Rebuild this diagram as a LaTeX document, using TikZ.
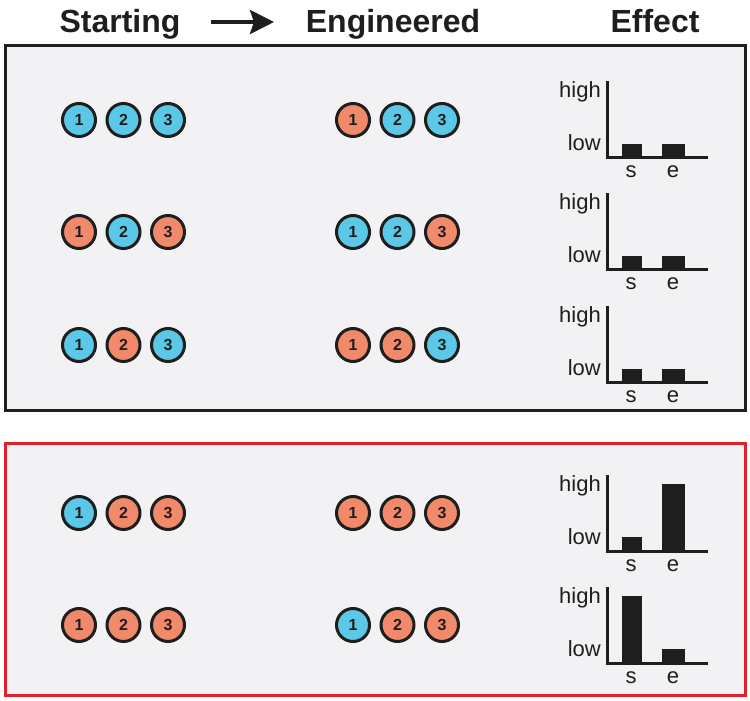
\documentclass[tikz,border=0pt]{standalone}
\usepackage{fontspec}
\setmainfont{Liberation Sans}
\usetikzlibrary{arrows.meta}
\definecolor{panelgray}{HTML}{F2F2F4}
\definecolor{cblue}{HTML}{5BC8E8}
\definecolor{corange}{HTML}{F08A6A}
\definecolor{fred}{HTML}{E0202A}
\definecolor{ink}{HTML}{1E1E1E}
\tikzset{
  panel/.style={line width=3, fill=panelgray},
  ball/.style={circle, draw=ink, line width=3, fill=#1, minimum size=33, inner sep=0,
    font=\fontsize{16}{16}\selectfont\bfseries, text=ink},
  title/.style={font=\fontsize{32}{32}\selectfont\bfseries, text=ink, anchor=base},
  lab/.style={font=\fontsize{22}{22}\selectfont, text=ink, inner sep=0},
  axis/.style={draw=ink, line width=3, line join=miter},
}
\newcommand\crow[5]{%
  \node[ball=#3] (#1a) at (#2) {1};
  \node[ball=#4] (#1b) at ([xshift=44.5]#1a.center) {2};
  \node[ball=#5] (#1c) at ([xshift=44.5]#1b.center) {3};
}
\newcommand\chartat[4]{%
  \fill[ink] (622,#2) rectangle (642,#2-#3);
  \fill[ink] (662,#2) rectangle (685,#2-#4);
  \draw[axis] (607,#2-76) -- (607,#2) -- (708,#2);
  \node[lab, anchor=base east] (#1h) at (601,#2-60) {high};
  \node[lab, anchor=base east] (#1l) at (601,#2-7) {low};
  \node[lab, anchor=base] (#1s) at (631,#2+20) {s};
  \node[lab, anchor=base] (#1e) at (673,#2+20) {e};
}
\begin{document}
\begin{tikzpicture}[x=1pt,y=-1pt]
\useasboundingbox[fill=white] (0,0) rectangle (750,701);
\draw[panel, draw=ink] (5,46) rectangle (745,410);
\draw[panel, draw=fred] (5,443) rectangle (745,695);
\node[title] (start) at (120,33) {Starting};
\node[title] (eng) at (393,33) {Engineered};
\node[title] (eff) at (655,33) {Effect};
\coordinate (arrs) at (211,22);
\coordinate (arre) at (274,22);
\draw[line width=4, draw=ink, -{Stealth[length=24,width=24,inset=4]}] (arrs) -- (arre);
% rows
\crow{sa}{79,120}{cblue}{cblue}{cblue}
\crow{ea}{353,120}{corange}{cblue}{cblue}
\chartat{ca}{157}{13}{13}
\crow{sb}{79,232}{corange}{cblue}{corange}
\crow{eb}{353,232}{cblue}{cblue}{corange}
\chartat{cb}{269}{13}{13}
\crow{sc}{79,345}{cblue}{corange}{cblue}
\crow{ec}{353,345}{corange}{corange}{cblue}
\chartat{cc}{382}{13}{13}
\crow{sd}{79,513}{cblue}{corange}{corange}
\crow{ed}{353,513}{corange}{corange}{corange}
\chartat{cd}{551}{14}{67}
\crow{se}{79,625}{corange}{corange}{corange}
\crow{ee}{353,625}{cblue}{corange}{corange}
\chartat{ce}{663}{67}{14}
\end{tikzpicture}
\end{document}
